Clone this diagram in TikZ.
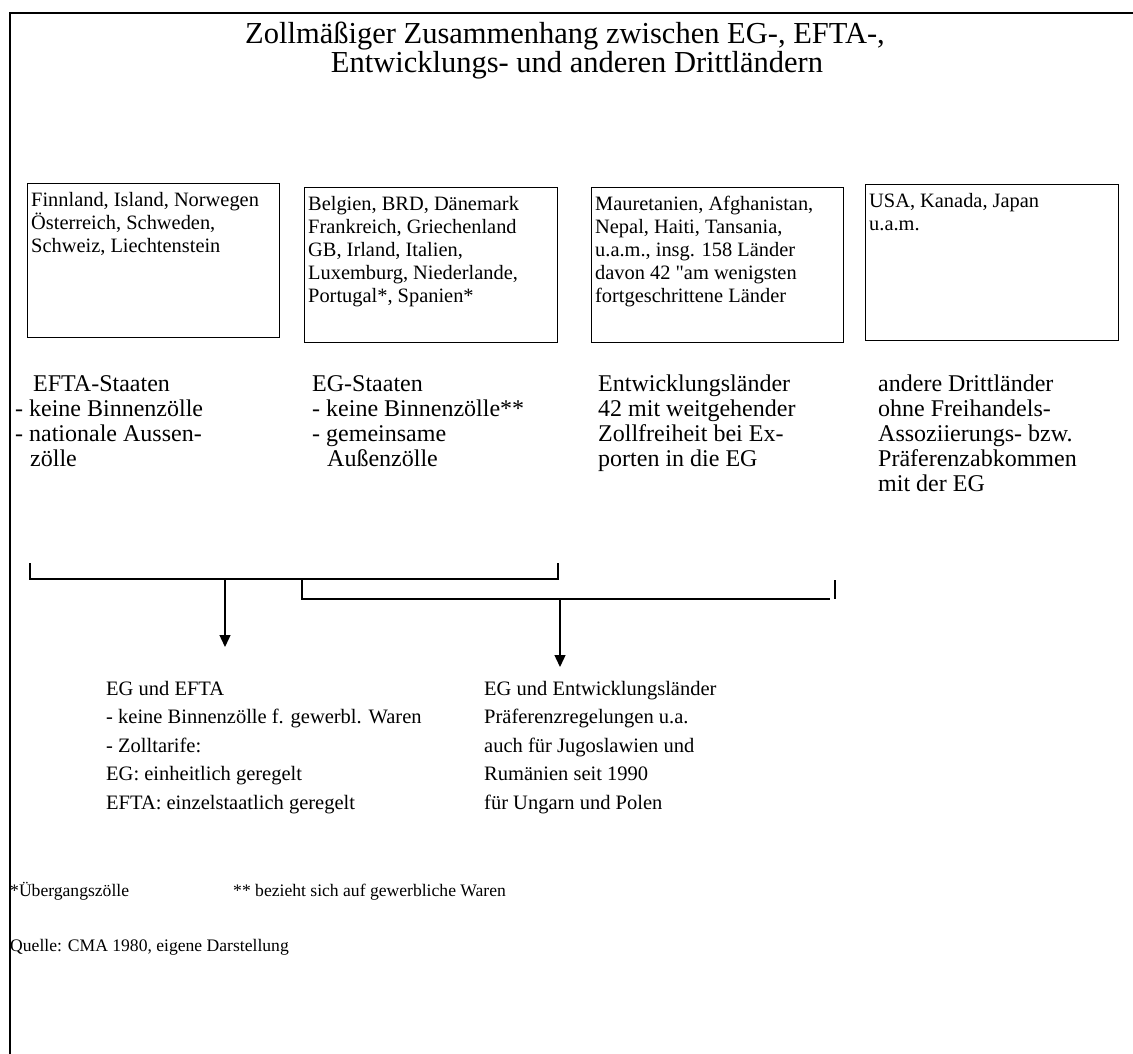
\documentclass[tikz,border=0pt]{standalone}
\usepackage{fontspec}
\setmainfont{Liberation Serif}[Ligatures=TeXOff]
\usetikzlibrary{arrows.meta}
\begin{document}
\begin{tikzpicture}[x=1pt,y=-1pt,
  framestyle/.style={line width=2pt},
  cbox/.style={draw,line width=1.4pt,anchor=north west,inner sep=0pt},
  boxtext/.style={anchor=north west,inner sep=0pt,align=left,font=\fontsize{20.4}{23}\selectfont},
  grouptext/.style={anchor=north west,inner sep=0pt,align=left,font=\fontsize{24}{25}\selectfont},
  resulttext/.style={anchor=north west,inner sep=0pt,align=left,font=\fontsize{20.5}{28.5}\selectfont},
  notetext/.style={anchor=base west,inner sep=0pt,font=\fontsize{17.6}{20}\selectfont},
  brack/.style={line width=1.4pt},
  arr/.style={line width=1.4pt,-{Triangle[width=11pt,length=12pt]}}]
\useasboundingbox (0,0) rectangle (1133,1054);
% frame
\coordinate (fbl) at (10,1054);
\coordinate (ftl) at (10,13);
\coordinate (ftr) at (1133,13);
\draw[framestyle] (fbl) -- (ftl) -- (ftr);
% title
\node[anchor=north,align=center,inner sep=0pt,font=\fontsize{30.5}{27}\selectfont] (title) at (565,22)
  {Zollmäßiger Zusammenhang zwischen EG-, EFTA-,\\\hspace*{24pt}Entwicklungs- und anderen Drittländern};
% boxes
\node[cbox,minimum width=252pt,minimum height=154pt] (b1) at (27,183) {};
\node[cbox,minimum width=253pt,minimum height=155pt] (b2) at (304,187) {};
\node[cbox,minimum width=252pt,minimum height=155pt] (b3) at (591,187) {};
\node[cbox,minimum width=253pt,minimum height=156pt] (b4) at (865,184) {};
\node[boxtext] (t1) at ([xshift=4pt,yshift=-9pt]b1.north west)
  {Finnland, Island, Norwegen\\Österreich, Schweden,\\Schweiz, Liechtenstein};
\node[boxtext] (t2) at ([xshift=4pt,yshift=-9pt]b2.north west)
  {Belgien, BRD, Dänemark\\Frankreich, Griechenland\\GB, Irland, Italien,\\Luxemburg, Niederlande,\\Portugal*, Spanien*};
\node[boxtext] (t3) at ([xshift=4pt,yshift=-9pt]b3.north west)
  {Mauretanien, Afghanistan,\\Nepal, Haiti, Tansania,\\u.a.m., insg. 158 Länder\\davon 42 "am wenigsten\\fortgeschrittene Länder};
\node[boxtext] (t4) at ([xshift=4pt,yshift=-9pt]b4.north west)
  {USA, Kanada, Japan\\u.a.m.};
% group labels
\node[grouptext] (g1) at (15,375)
  {\hspace*{18pt}EFTA-Staaten\\- keine Binnenzölle\\- nationale Aussen-\\\hspace*{15pt}zölle};
\node[grouptext] (g2) at (312,375)
  {EG-Staaten\\- keine Binnenzölle**\\- gemeinsame\\\hspace*{15pt}Außenzölle};
\node[grouptext] (g3) at (598,375)
  {Entwicklungsländer\\42 mit weitgehender\\Zollfreiheit bei Ex-\\porten in die EG};
\node[grouptext] (g4) at (878,375)
  {andere Drittländer\\ohne Freihandels-\\Assoziierungs- bzw.\\Präferenzabkommen\\mit der EG};
% brackets
\coordinate (k1a) at (30,563);
\coordinate (k1b) at (30,579);
\coordinate (k1c) at (558,579);
\coordinate (k1d) at (558,563);
\draw[brack] (k1a) -- (k1b) -- (k1c) -- (k1d);
\coordinate (k2a) at (302,579);
\coordinate (k2b) at (302,599);
\coordinate (k2c) at (830,599);
\draw[brack] (k2a) -- (k2b) -- (k2c);
\coordinate (k2t) at (835,580);
\coordinate (k2u) at (835,599);
\draw[brack] (k2t) -- (k2u);
% results
\node[resulttext] (r1) at (106,681)
  {EG und EFTA\\- keine Binnenzölle f. gewerbl. Waren\\- Zolltarife:\\EG: einheitlich geregelt\\EFTA: einzelstaatlich geregelt};
\node[resulttext] (r2) at (484,681)
  {EG und Entwicklungsländer\\Präferenzregelungen u.a.\\auch für Jugoslawien und\\Rumänien seit 1990\\für Ungarn und Polen};
% arrows
\coordinate (a1s) at (225,579);
\coordinate (a1e) at (225,647);
\coordinate (a2s) at (560,599);
\coordinate (a2e) at (560,667);
\draw[arr] (a1s) -- (a1e);
\draw[arr] (a2s) -- (a2e);
% notes
\node[notetext] (n1) at (10,896) {*Übergangszölle};
\node[notetext] (n2) at (233,896) {** bezieht sich auf gewerbliche Waren};
\node[notetext] (n3) at (10,951) {Quelle: CMA 1980, eigene Darstellung};
\end{tikzpicture}
\end{document}
